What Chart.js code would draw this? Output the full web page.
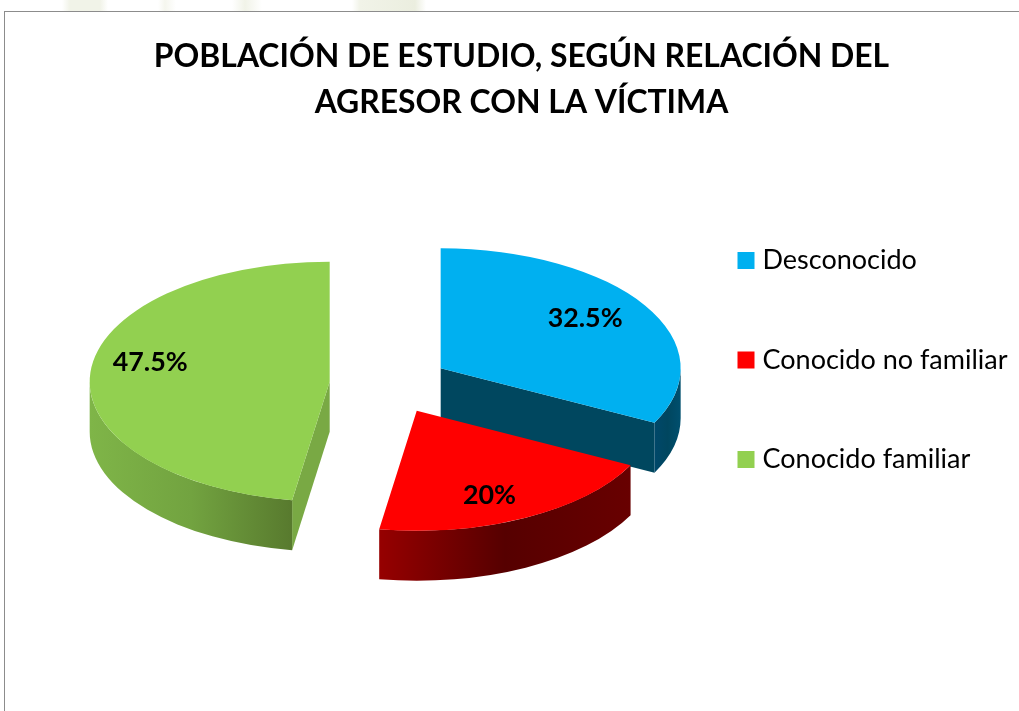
<!DOCTYPE html>
<html lang="es">
<head>
  <meta charset="UTF-8" />
  <title>Población de estudio</title>
  <style>
    html, body { margin: 0; background: #fff; overflow: hidden; }
    /* faint page watermark above the chart frame */
    .watermark {
      position: absolute; left: 0; top: 0; width: 1019px; height: 11px;
      background: linear-gradient(90deg, #fff 62px, #f1f3e8 70px, #f1f3e8 100px, #fff 108px, #fff 158px, #f5f6ee 165px, #fff 176px,
        #fff 232px, #f1f3e8 245px, #fff 262px, #fff 352px, #f1f3e8 360px, #ebeedf 415px, #fff 426px);
    }
    .frame {
      position: absolute; left: 4px; top: 11px; width: 1015px; height: 700px;
      border-left: 1px solid #8c8c8c; border-top: 1px solid #8c8c8c; box-sizing: border-box;
    }
    #chart { position: absolute; left: 0; top: 0; }
  </style>
</head>
<body>
<div class="watermark"></div>
<div class="frame"></div>
<canvas id="chart" width="1019" height="711"></canvas>

<script src="https://cdn.jsdelivr.net/npm/chart.js"></script>
<script>
  const titleLines = ['POBLACIÓN DE ESTUDIO, SEGÚN RELACIÓN DEL', 'AGRESOR CON LA VÍCTIMA'];
  const categories = ['Desconocido', 'Conocido no familiar', 'Conocido familiar'];
  const values = [32.5, 20, 47.5];
  const topColors = ['#00B0F0', '#FF0000', '#92D050'];

  // side walls of the 3D look: [colour stops along x], flat cut face colour
  const wallStops = [
    ['#00486a', '#00465f', '#004f6e'],
    ['#960000', '#560000', '#680000'],
    ['#7fb548', '#72a340', '#587a2e']
  ];
  const faceColors = ['#00475f', '#5a0000', '#79a944'];

  const tilt = 0.5;
  const depth = 50;
  const explode = 60;
  const pieCenter = { x: 389.5, y: 384 };
  const labelFont = 'bold 26.8px Lato';
  // labels in the original are not quite on the slice's mid line
  const labelNudgeX = [-9, -9, 0];
  const labelNudgeY = [-3, 4, -12];

  // centre of an exploded slice on screen
  function sliceFrame(arc) {
    const { x, y, startAngle, endAngle, outerRadius } = arc;
    const mid = (startAngle + endAngle) / 2;
    return {
      cx: x + Math.cos(mid) * explode,
      cy: y + Math.sin(mid) * explode * tilt,
      r: outerRadius, start: startAngle, end: endAngle, mid
    };
  }

  function drawCutFace(ctx, f, angle, color) {
    const ex = f.cx + Math.cos(angle) * f.r;
    const ey = f.cy + Math.sin(angle) * f.r * tilt;
    ctx.fillStyle = color;
    ctx.beginPath();
    ctx.moveTo(f.cx, f.cy);
    ctx.lineTo(ex, ey);
    ctx.lineTo(ex, ey + depth);
    ctx.lineTo(f.cx, f.cy + depth);
    ctx.closePath();
    ctx.fill();
  }

  const pie3d = {
    id: 'pie3d',
    afterLayout(chart) {
      // legend sits far right of the pie, pie is centred on its own spot
      const legend = chart.legend;
      const w = legend.width;
      legend.left = 670.5;
      legend.right = legend.left + w;
      legend.top = 174.5;
      legend.bottom = legend.top + legend.height;
      chart.chartArea = {
        left: pieCenter.x - 250, right: pieCenter.x + 250,
        top: pieCenter.y - 250, bottom: pieCenter.y + 250,
        width: 500, height: 500
      };
    },
    beforeDatasetDraw(chart) {
      const ctx = chart.ctx;
      const arcs = chart.getDatasetMeta(0).data;

      arcs.forEach((arc, i) => {
        const f = sliceFrame(arc);
        // cut faces that look towards the viewer
        if (Math.sin(f.start - Math.PI / 2) > 0.001) drawCutFace(ctx, f, f.start, faceColors[i]);
        if (Math.sin(f.end + Math.PI / 2) > 0.001) drawCutFace(ctx, f, f.end, faceColors[i]);

        // rounded outer wall, lower half of the ellipse only
        const lo = Math.max(f.start, 0);
        const hi = Math.min(f.end, Math.PI);
        if (hi > lo) {
          const x0 = f.cx + Math.cos(hi) * f.r;
          const x1 = f.cx + Math.cos(lo) * f.r;
          const grad = ctx.createLinearGradient(x0, 0, x1, 0);
          wallStops[i].forEach((c, k) => grad.addColorStop(k / (wallStops[i].length - 1), c));
          ctx.fillStyle = grad;
          ctx.beginPath();
          ctx.ellipse(f.cx, f.cy, f.r, f.r * tilt, 0, lo, hi);
          ctx.ellipse(f.cx, f.cy + depth, f.r, f.r * tilt, 0, hi, lo, true);
          ctx.closePath();
          ctx.fill();
        }
      });

      // top faces: the library's arcs, moved out and squashed into an ellipse
      arcs.forEach(arc => {
        const f = sliceFrame(arc);
        ctx.save();
        ctx.translate(f.cx, f.cy);
        ctx.scale(1, tilt);
        ctx.translate(-arc.x, -arc.y);
        arc.draw(ctx);
        ctx.restore();
      });
      return false;
    },
    afterDatasetsDraw(chart) {
      const ctx = chart.ctx;
      ctx.save();
      ctx.font = labelFont;
      ctx.fillStyle = '#000';
      ctx.textAlign = 'center';
      ctx.textBaseline = 'middle';
      chart.getDatasetMeta(0).data.forEach((arc, i) => {
        const f = sliceFrame(arc);
        const x = f.cx + Math.cos(f.mid) * f.r * 0.75 + labelNudgeX[i];
        const y = f.cy + Math.sin(f.mid) * f.r * 0.75 * tilt + labelNudgeY[i];
        ctx.fillText(values[i] + '%', x, y);
      });
      ctx.restore();
    }
  };

  new Chart(document.getElementById('chart').getContext('2d'), {
    type: 'pie',
    plugins: [pie3d],
    data: {
      labels: categories,
      datasets: [{
        data: values,
        backgroundColor: topColors,
        borderWidth: 0,
        radius: 240,
        clip: false
      }]
    },
    options: {
      responsive: false,
      animation: false,
      layout: { padding: { left: 24 } },
      plugins: {
        tooltip: { enabled: false },
        title: {
          display: true,
          text: titleLines,
          color: '#000',
          padding: { top: 34, bottom: 10 },
          font: { family: 'Lato', size: 31.9, weight: 'bold', lineHeight: 1.44 }
        },
        legend: {
          position: 'right',
          align: 'start',
          labels: {
            color: '#000',
            padding: 72.5,
            boxWidth: 6,
            boxHeight: 6,
            font: { family: 'Lato', size: 27 },
            // thick stroke makes a 17px square while keeping the text close to it
            generateLabels(chart) {
              return Chart.controllers.pie.overrides.plugins.legend.labels.generateLabels(chart).map(item => ({
                ...item, lineWidth: 11, strokeStyle: item.fillStyle
              }));
            }
          }
        }
      }
    }
  });
</script>
</body>
</html>
